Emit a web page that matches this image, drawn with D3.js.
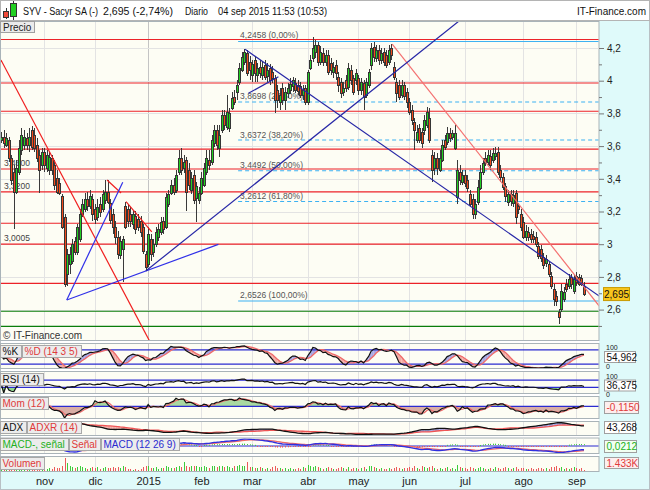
<!DOCTYPE html>
<html><head><meta charset="utf-8">
<script src="https://cdn.jsdelivr.net/npm/d3@7"></script>
<style>
body{margin:0;background:#fff;}
svg{display:block;font-family:"Liberation Sans",Arial,sans-serif;}
</style></head><body>
<svg id="c" width="650" height="490"></svg>
<script>
// ---------- DATA ----------
const opens = [3.638,3.657,3.608,3.638,3.529,3.444,3.322,3.444,3.578,3.608,
3.650,3.608,3.699,3.669,3.608,3.547,3.486,3.565,3.468,3.456,
3.529,3.486,3.407,3.377,3.292,3.164,2.818,2.878,2.897,3.018,
2.951,3.030,3.182,3.213,3.274,3.231,3.274,3.213,3.164,3.243,
3.213,3.274,3.322,3.255,3.182,3.103,3.043,2.933,2.970,3.231,
3.213,3.182,3.122,3.170,3.152,3.140,3.103,2.939,2.878,3.030,
2.951,3.000,3.043,3.073,3.140,3.103,3.243,3.316,3.365,3.334,
3.444,3.529,3.468,3.517,3.456,3.334,3.426,3.286,3.274,3.316,
3.365,3.444,3.517,3.505,3.620,3.699,3.590,3.699,3.790,3.717,
3.711,3.833,3.900,3.930,3.991,4.064,4.112,4.167,4.112,4.033,
4.125,4.033,4.082,4.033,4.094,4.027,4.076,4.052,4.015,3.942,
3.869,3.954,3.881,3.924,3.942,3.967,3.985,3.973,3.967,3.912,
3.954,3.869,4.076,4.137,4.173,4.216,4.112,4.167,4.112,4.155,
4.106,4.052,4.094,4.021,3.991,3.930,4.003,3.960,4.064,4.015,
4.003,4.015,3.942,3.985,3.912,3.973,4.094,4.204,4.137,4.185,
4.125,4.173,4.155,4.112,4.197,4.082,3.991,3.973,3.912,3.973,
3.930,3.869,3.821,3.748,3.638,3.711,3.687,3.699,3.730,3.772,
3.547,3.468,3.529,3.456,3.517,3.638,3.626,3.681,3.657,3.590,
3.292,3.444,3.383,3.426,3.395,3.304,3.274,3.182,3.255,3.347,
3.444,3.529,3.505,3.541,3.517,3.541,3.565,3.456,3.413,3.353,
3.255,3.304,3.249,3.316,3.231,3.182,3.134,3.043,3.073,3.061,
3.049,3.043,2.988,2.970,2.921,2.884,2.878,2.805,2.726,2.684,
2.586,2.605,2.666,2.757,2.745,2.799,2.714,2.805,2.799,2.793,
2.745];
const highs = [3.687,3.699,3.681,3.657,3.547,3.486,3.517,3.638,3.711,3.699,
3.681,3.711,3.723,3.711,3.650,3.578,3.590,3.590,3.578,3.565,
3.547,3.517,3.456,3.407,3.304,3.182,2.970,2.982,3.030,3.043,
3.122,3.213,3.274,3.316,3.322,3.334,3.304,3.243,3.274,3.286,
3.334,3.395,3.395,3.274,3.213,3.140,3.079,3.049,3.049,3.261,
3.243,3.225,3.201,3.201,3.182,3.170,3.122,2.957,3.103,3.061,
3.030,3.103,3.122,3.164,3.164,3.316,3.334,3.395,3.407,3.456,
3.578,3.590,3.547,3.535,3.498,3.444,3.456,3.383,3.347,3.444,
3.498,3.578,3.578,3.669,3.730,3.730,3.730,3.821,3.821,3.912,
3.833,3.930,3.942,4.003,4.106,4.173,4.191,4.185,4.149,4.125,
4.143,4.106,4.125,4.112,4.125,4.106,4.100,4.088,4.033,3.973,
3.954,3.985,3.960,3.985,4.015,4.021,4.015,4.003,3.991,3.973,
3.973,4.064,4.155,4.270,4.246,4.234,4.210,4.197,4.185,4.185,
4.137,4.112,4.125,4.052,4.015,3.991,4.033,4.106,4.094,4.033,
4.070,4.033,4.015,4.003,4.015,4.070,4.228,4.234,4.216,4.216,
4.197,4.197,4.185,4.216,4.222,4.112,4.015,4.003,4.003,3.991,
3.954,3.894,3.851,3.772,3.730,3.736,3.711,3.790,3.839,3.833,
3.578,3.565,3.559,3.578,3.638,3.669,3.717,3.711,3.699,3.730,
3.517,3.486,3.456,3.456,3.426,3.334,3.304,3.274,3.395,3.486,
3.529,3.565,3.578,3.578,3.590,3.596,3.596,3.486,3.438,3.377,
3.334,3.334,3.334,3.334,3.255,3.213,3.164,3.116,3.103,3.091,
3.079,3.073,3.012,2.994,2.945,2.933,2.897,2.830,2.757,2.714,
2.605,2.757,2.739,2.787,2.818,2.818,2.812,2.830,2.818,2.812,
2.769];
const lows = [3.620,3.590,3.596,3.505,3.365,3.091,3.304,3.426,3.547,3.578,
3.578,3.565,3.578,3.565,3.505,3.316,3.456,3.444,3.444,3.426,
3.426,3.334,3.304,3.298,3.091,2.739,2.745,2.818,2.878,2.933,
2.933,3.012,3.164,3.195,3.201,3.213,3.140,3.122,3.140,3.164,
3.195,3.243,3.243,3.122,3.061,3.000,2.909,2.909,2.769,3.091,
3.103,3.103,3.091,3.061,3.079,3.043,2.939,2.836,2.860,2.897,
2.921,2.982,3.018,3.055,3.061,3.091,3.225,3.298,3.298,3.316,
3.426,3.426,3.438,3.201,3.334,3.304,3.243,3.134,3.243,3.298,
3.347,3.426,3.456,3.486,3.596,3.578,3.535,3.681,3.699,3.699,
3.687,3.821,3.851,3.881,3.973,4.052,4.094,4.027,4.003,3.991,
3.991,3.991,4.015,4.003,4.003,3.991,3.973,3.985,3.802,3.833,
3.821,3.851,3.821,3.894,3.918,3.930,3.924,3.912,3.894,3.881,
3.851,3.851,4.064,4.112,4.137,4.088,4.094,4.088,4.088,4.033,
4.033,4.015,4.003,3.930,3.894,3.906,3.930,3.942,3.973,3.912,
3.973,3.912,3.912,3.821,3.894,3.954,4.064,4.112,4.112,4.094,
4.100,4.088,4.076,4.094,4.125,4.003,3.869,3.881,3.894,3.881,
3.833,3.790,3.730,3.578,3.620,3.620,3.590,3.669,3.711,3.620,
3.383,3.426,3.426,3.444,3.505,3.578,3.608,3.626,3.638,3.578,
3.243,3.365,3.365,3.347,3.322,3.225,3.152,3.152,3.237,3.334,
3.426,3.480,3.486,3.456,3.498,3.517,3.426,3.383,3.334,3.261,
3.231,3.231,3.225,3.122,3.182,3.079,3.030,3.018,3.018,3.006,
3.006,2.982,2.909,2.891,2.848,2.860,2.799,2.726,2.623,2.623,
2.514,2.586,2.647,2.708,2.726,2.726,2.696,2.745,2.745,2.745,
2.684];
const closes = [3.657,3.620,3.650,3.529,3.395,3.322,3.468,3.590,3.669,3.657,
3.608,3.657,3.596,3.590,3.529,3.456,3.565,3.486,3.547,3.535,
3.456,3.365,3.322,3.316,3.103,2.757,2.939,2.939,3.000,2.951,
3.103,3.182,3.243,3.274,3.231,3.292,3.182,3.152,3.225,3.195,
3.304,3.322,3.261,3.152,3.103,3.043,2.939,3.018,3.030,3.103,
3.140,3.140,3.182,3.091,3.103,3.073,2.957,2.860,3.061,2.939,
3.000,3.073,3.091,3.134,3.091,3.286,3.304,3.365,3.322,3.426,
3.529,3.456,3.505,3.322,3.365,3.407,3.274,3.359,3.316,3.407,
3.468,3.529,3.486,3.638,3.699,3.608,3.669,3.790,3.730,3.809,
3.802,3.894,3.869,3.973,4.076,4.143,4.173,4.046,4.064,4.100,
4.046,4.076,4.046,4.082,4.021,4.064,4.003,4.015,3.881,3.881,
3.912,3.881,3.930,3.954,3.979,4.003,3.942,3.936,3.912,3.942,
3.869,4.052,4.125,4.197,4.216,4.112,4.173,4.112,4.155,4.052,
4.064,4.082,4.046,3.973,3.924,3.954,3.954,4.076,4.003,3.930,
4.046,3.942,3.991,3.900,3.991,4.052,4.197,4.143,4.185,4.125,
4.167,4.112,4.094,4.185,4.155,4.021,3.924,3.900,3.973,3.906,
3.869,3.809,3.760,3.699,3.687,3.638,3.620,3.760,3.809,3.638,
3.456,3.529,3.468,3.529,3.608,3.596,3.681,3.650,3.681,3.681,
3.456,3.395,3.426,3.377,3.347,3.243,3.182,3.243,3.347,3.444,
3.498,3.505,3.547,3.486,3.559,3.559,3.444,3.413,3.353,3.292,
3.304,3.261,3.298,3.170,3.213,3.103,3.043,3.079,3.043,3.030,
3.030,3.000,2.927,2.915,2.872,2.909,2.818,2.745,2.666,2.653,
2.556,2.714,2.708,2.726,2.787,2.757,2.787,2.769,2.757,2.771,
2.695];
const volumes = [4,5,3,4,6,9,5,4,5,3,4,5,3,4,4,6,4,
4,3,4,3,5,4,4,7,16,10,6,5,4,5,6,5,4,3,4,5,
4,5,3,4,5,4,4,5,4,5,4,6,5,3,3,2,3,2,3,5,6,
6,4,4,5,3,4,4,6,5,4,4,5,6,5,11,7,5,6,7,6,5,
5,6,5,4,7,6,5,6,7,5,6,5,4,6,7,8,6,6,11,5,
5,4,4,5,4,3,4,3,5,6,4,4,3,4,3,4,3,3,4,3,5,4,
8,6,5,7,5,4,3,4,5,4,3,3,4,5,4,3,5,3,4,4,
3,4,5,3,6,7,5,4,3,4,3,3,4,3,4,5,4,3,4,4,
5,4,6,4,3,7,5,4,5,6,4,3,4,3,4,5,3,4,3,8,5,4,
4,3,5,4,3,4,5,4,3,3,4,3,5,4,3,4,5,4,3,4,5,3,4,
4,3,3,4,3,3,4,4,3,4,3,5,5,6,4,5,3,4,3,4,5,
4,3,4,1.433];
const monthStarts = [17,37,58,79,99,121,141,161,183,206,227];
const monthLabels = ["nov","dic","2015","feb","mar","abr","may","jun","jul","ago","sep"];
const priceTicks = [2.6,2.8,3,3.2,3.4,3.6,3.8,4,4.2];
const minorTicks = [2.5,2.7,2.9,3.1,3.3,3.5,3.7,3.9,4.1];
const fibLevels = [4.2458,3.8698,3.6372,3.4492,3.2612,2.6526];
const fibPct = ["0,00%","23,60%","38,20%","50,00%","61,80%","100,00%"];
const fibStart = 93.5;
const redLevels = [4.252,3.986,3.813,3.582,3.46,3.32,3.128,3.0005,2.761];
const greenLevels = [2.590,2.498];
const levelLabels = [[3.46,"3,4600"],[3.32,"3,3200"],[3.0005,"3,0005"]];
const redTrends = [[[-0.1,4.127],[58.75,2.402]],[[41.77,3.393],[47.3,3.313]],[[49.27,3.26],[59.42,3.076]]];
const salmonTrends = [[[154.3,4.224],[236,2.622]]];
const brightBlueTrends = [[[25.86,2.659],[47.97,3.379]],[[25.86,2.659],[85.71,2.999]]];
const navyTrends = [[[57.05,2.836],[200,4.604]],[[96.25,4.192],[236,2.683]],[[97.55,3.923],[109.4,4.024]]];
const headerTexts = [["SYV - Sacyr SA (-)",23,75],["2,695 (-2,74%)",103,70],["Diario",185,23],["04 sep 2015 11:53 (10:53)",218,109]];
const lastValues = {price:"2,695", stoch:"54,962", rsi:"36,375", mom:"-0,1150", adx:"43,268", macd:"0,0212", vol:"1.433K"};

// ---------- SETUP ----------
const W=650,H=490,PR=599;
const n = closes.length;
const svg = d3.select("#c");
const x = d3.scaleLinear().domain([0,230]).range([1.2,584]);
const y = d3.scaleLinear().domain([2.6,4.2]).range([309.6,48.0]);
const loc = d3.formatLocale({decimal:",",thousands:".",grouping:[3],currency:["","€"]});
const fAxis = loc.format("~g");
const fib4 = loc.format(".4f");

svg.append("rect").attr("width",W).attr("height",H).attr("fill","#fff");
svg.append("rect").attr("x",PR).attr("y",21).attr("width",W-PR).attr("height",H-21).attr("fill","#dffafa");
svg.append("rect").attr("x",0).attr("y",472).attr("width",W).attr("height",18).attr("fill","#dffafa");
svg.append("rect").attr("x",0.5).attr("y",0.5).attr("width",W-1).attr("height",H-1).attr("fill","none").attr("stroke","#b8c0c4");

// header
svg.append("rect").attr("x",0.5).attr("y",0.5).attr("width",W-1).attr("height",20).attr("fill","#fff").attr("stroke","#b4b4b4");
const ic = svg.append("g").attr("shape-rendering","crispEdges");
ic.append("line").attr("x1",6.5).attr("x2",6.5).attr("y1",8).attr("y2",19).attr("stroke","#333");
ic.append("rect").attr("x",3.5).attr("y",11.5).attr("width",5).attr("height",6).attr("fill","#f04a3a").attr("stroke","#333");
ic.append("line").attr("x1",13.5).attr("x2",13.5).attr("y1",1).attr("y2",20).attr("stroke","#333");
ic.append("rect").attr("x",10.5).attr("y",3.5).attr("width",6).attr("height",13).attr("fill","#22d022").attr("stroke","#333");
const ht = svg.append("g").attr("font-size","10px").attr("fill","#111");
headerTexts.forEach(([t,xx,w])=>ht.append("text").attr("x",xx).attr("y",15).attr("textLength",w).attr("lengthAdjust","spacingAndGlyphs").text(t));
ht.append("text").attr("x",646).attr("y",15).attr("text-anchor","end").text("IT-Finance.com");

// panels
const panels = {main:[21,341],stoch:[343,369],rsi:[371,394],mom:[396,419],adx:[421,436],macd:[437.5,454],vol:[456,472]};
const defs = svg.append("defs");
Object.entries(panels).forEach(([k,[t,b]])=>{
  svg.append("rect").attr("x",0.5).attr("y",t+0.5).attr("width",PR-0.5).attr("height",b-t-1)
    .attr("fill","#fdfdf4").attr("stroke","#a9b3b8");
  defs.append("clipPath").attr("id","clip-"+k).append("rect").attr("x",1).attr("y",t+1).attr("width",PR-1.5).attr("height",b-t-2);
  const g = svg.append("g").attr("clip-path",`url(#clip-${k})`).attr("shape-rendering","crispEdges");
  monthStarts.forEach((m,j)=>{
    const xx = Math.round(x(m))+0.5;
    g.append("line").attr("x1",xx).attr("x2",xx).attr("y1",t).attr("y2",b).attr("stroke", j===2?"#c4c4c4":"#e3e3e3");
  });
});
const layer = k => svg.append("g").attr("clip-path",`url(#clip-${k})`);

// ---------- MAIN PRICE PANEL ----------
const gm = layer("main");
priceTicks.forEach(p=>{
  const yy = Math.round(y(p))+0.5;
  gm.append("line").attr("x1",0).attr("x2",PR).attr("y1",yy).attr("y2",yy).attr("stroke","#e3e3e3").attr("shape-rendering","crispEdges");
});
levelLabels.forEach(([p,t])=>{
  gm.append("text").attr("x",4).attr("y",y(p)-3).attr("font-size","8.5px").attr("fill","#444").text(t);
});
fibLevels.forEach((p,k)=>{
  const solid = (k===0 || k===fibLevels.length-1);
  gm.append("line").attr("x1",x(fibStart)).attr("x2",PR).attr("y1",y(p)+ (k===0?1:0)).attr("y2",y(p)+(k===0?1:0))
    .attr("stroke", "#3db2f2").attr("stroke-width",1.2).attr("stroke-dasharray", solid?null:"4,3");
  gm.append("text").attr("x",x(fibStart)+2).attr("y",y(p)-2.5).attr("font-size","8.5px").attr("fill","#555")
    .text(`${fib4(p)} (${fibPct[k]})`);
});
redLevels.forEach(p=>{
  gm.append("line").attr("x1",0).attr("x2",PR).attr("y1",y(p)).attr("y2",y(p)).attr("stroke","#ec2228").attr("stroke-width",1.2);
});
greenLevels.forEach(p=>{
  gm.append("line").attr("x1",0).attr("x2",PR).attr("y1",y(p)).attr("y2",y(p)).attr("stroke","#0a7d0a").attr("stroke-width",1.2);
});
const cg = gm.append("g").attr("shape-rendering","crispEdges");
for (let i=0;i<n;i++){
  const cx = Math.round(x(i));
  cg.append("line").attr("x1",cx+0.5).attr("x2",cx+0.5).attr("y1",y(highs[i])).attr("y2",y(lows[i])).attr("stroke","#3a3a3a");
}
for (let i=0;i<n;i++){
  const cx = Math.round(x(i));
  const up = closes[i]>=opens[i];
  const top = Math.round(y(Math.max(opens[i],closes[i])));
  const h = Math.max(1, Math.round(Math.abs(y(opens[i])-y(closes[i]))));
  cg.append("rect").attr("x",cx-0.5).attr("y",top+0.5).attr("width",2).attr("height",h)
    .attr("fill", up?"#22cf22":"#f24a1c").attr("stroke","#353535").attr("stroke-width",1);
}
const tl = d3.line().x(d=>x(d[0])).y(d=>y(d[1]));
redTrends.forEach(s=>gm.append("path").attr("d",tl(s)).attr("stroke","#f01e1e").attr("stroke-width",1.2).attr("fill","none"));
salmonTrends.forEach(s=>gm.append("path").attr("d",tl(s)).attr("stroke","#f47070").attr("stroke-width",1.2).attr("fill","none"));
brightBlueTrends.forEach(s=>gm.append("path").attr("d",tl(s)).attr("stroke","#3030e8").attr("stroke-width",1.2).attr("fill","none"));
navyTrends.forEach(s=>gm.append("path").attr("d",tl(s)).attr("stroke","#2626a6").attr("stroke-width",1.2).attr("fill","none"));

svg.append("text").attr("x",3).attr("y",339).attr("font-size","10px").attr("fill","#333").text("© IT-Finance.com");
svg.append("rect").attr("x",0.5).attr("y",21.5).attr("width",34).attr("height",11).attr("fill","#ebebeb").attr("stroke","#a0a0a0");
svg.append("text").attr("x",3).attr("y",30.5).attr("font-size","10px").attr("fill","#222").text("Precio");

const ra = svg.append("g").attr("transform",`translate(${PR},0)`)
  .call(d3.axisRight(y).tickValues(priceTicks).tickSize(5).tickPadding(3).tickFormat(fAxis));
const ra2 = svg.append("g").attr("transform",`translate(${PR},0)`)
  .call(d3.axisRight(y).tickValues(minorTicks).tickSize(3).tickFormat(""));
[ra,ra2].forEach(a=>{a.select(".domain").remove(); a.selectAll("line").attr("stroke","#777"); a.selectAll("text").attr("font-size","10px").attr("fill","#222").attr("font-family","Liberation Sans, Arial, sans-serif");});
svg.append("rect").attr("x",603.5).attr("y",y(closes[n-1])-6.5).attr("width",26).attr("height",13).attr("fill","#f8c61c").attr("stroke","#c89a00");
svg.append("text").attr("x",616.5).attr("y",y(closes[n-1])+3.5).attr("text-anchor","middle").attr("font-size","10px").attr("fill","#111").text(lastValues.price);

// ---------- INDICATORS ----------
const sma=(arr,p)=>arr.map((v,i)=>d3.mean(arr.slice(Math.max(0,i-p+1),i+1)));
const ema=(arr,p)=>{const k=2/(p+1);const out=[];arr.forEach((v,i)=>out.push(i===0?v:out[i-1]+k*(v-out[i-1])));return out;};
const wilder=(arr,p)=>{const out=[];arr.forEach((v,i)=>out.push(i===0?v:(i<p? (out[i-1]*i+v)/(i+1) : out[i-1]+(v-out[i-1])/p)));return out;};

const rawK = closes.map((c,i)=>{const s=Math.max(0,i-13);const hh=d3.max(highs.slice(s,i+1));const ll=d3.min(lows.slice(s,i+1));return hh>ll?100*(c-ll)/(hh-ll):50;});
const stK = sma(rawK,3), stD = sma(stK,5);
const gains=[0],losses=[0];
for(let i=1;i<n;i++){const d=closes[i]-closes[i-1];gains.push(Math.max(d,0));losses.push(Math.max(-d,0));}
const ag=wilder(gains.slice(1),14), al=wilder(losses.slice(1),14);
const rsi=[50].concat(ag.map((g,i)=>al[i]===0?100:100-100/(1+g/al[i])));
const mom = closes.map((c,i)=> i>=12 ? c-closes[i-12] : null);
const momS = mom.map((v,i)=> i>=14 ? d3.mean(mom.slice(i-2,i+1)) : null);
const tr=[highs[0]-lows[0]],pdm=[0],mdm=[0];
for(let i=1;i<n;i++){
  tr.push(Math.max(highs[i]-lows[i],Math.abs(highs[i]-closes[i-1]),Math.abs(lows[i]-closes[i-1])));
  const up=highs[i]-highs[i-1], dn=lows[i-1]-lows[i];
  pdm.push(up>dn&&up>0?up:0); mdm.push(dn>up&&dn>0?dn:0);
}
const str=wilder(tr,14), spd=wilder(pdm,14), smd=wilder(mdm,14);
const dx=str.map((t,i)=>{const p=100*spd[i]/t,m=100*smd[i]/t;return (p+m)>0?100*Math.abs(p-m)/(p+m):0;});
const adx=wilder(dx,14);
const adxr=adx.map((v,i)=>(v+adx[Math.max(0,i-14)])/2);
const e12=ema(closes,12), e26=ema(closes,26);
const macd=e12.map((v,i)=>v-e26[i]);
const sig=ema(macd,9);
const hist=macd.map((v,i)=>v-sig[i]);

const ys = d3.scaleLinear().domain([0,100]).range([369,345]);
const yr = d3.scaleLinear().domain([0,100]).range([393,374.5]);
const mvals = mom.filter(v=>v!==null);
const ym = d3.scaleLinear().domain([d3.min(mvals),d3.max(mvals)]).range([418,398]);
const ya = d3.scaleLinear().domain([d3.min(adx.slice(14)),d3.max(adx.slice(14))]).range([434.5,422.5]);
const mm = d3.max(macd.map(Math.abs));
const yc = d3.scaleLinear().domain([-mm,mm]).range([453,439]);
const yv = d3.scaleLinear().domain([0,d3.max(volumes)]).range([471.5,458]);

function fillBetween(g,a,b,ysc,cUp,cDn,start){
  for(let i=start;i<n-1;i++){
    const d0=a[i]-b[i], d1=a[i+1]-b[i+1];
    const poly=(pts,c)=>g.append("path").attr("d","M"+pts.map(p=>p.join(",")).join("L")+"Z").attr("fill",c);
    if(d0*d1<0){
      const t=d0/(d0-d1), xm=x(i+t), yv2=ysc(a[i]+t*(a[i+1]-a[i]));
      poly([[x(i),ysc(a[i])],[xm,yv2],[x(i),ysc(b[i])]], d0>0?cUp:cDn);
      poly([[xm,yv2],[x(i+1),ysc(a[i+1])],[x(i+1),ysc(b[i+1])]], d1>0?cUp:cDn);
    } else {
      poly([[x(i),ysc(a[i])],[x(i+1),ysc(a[i+1])],[x(i+1),ysc(b[i+1])],[x(i),ysc(b[i])]], (d0+d1)>=0?cUp:cDn);
    }
  }
}
const hline=(g,yy,c)=>g.append("line").attr("x1",0).attr("x2",PR).attr("y1",yy).attr("y2",yy).attr("stroke",c).attr("stroke-width",1.2);
const pline=(g,arr,ysc,c,w)=>g.append("path").attr("d",d3.line().defined(d=>d!==null).x((d,i)=>x(i)).y(d=>ysc(d))(arr)).attr("fill","none").attr("stroke",c).attr("stroke-width",w||1.2);

const gs=layer("stoch");
fillBetween(gs,stK,stD,ys,"#a6a6e4","#f2aaa4",0);
hline(gs,ys(80),"#2b2bd0"); hline(gs,ys(20),"#2b2bd0");
pline(gs,stD,ys,"#ef6a6a",1.3); pline(gs,stK,ys,"#111",1.2);
const gr=layer("rsi");
gr.append("path").attr("d",d3.area().x((d,i)=>x(i)).y0(yr(30)).y1(d=>yr(Math.min(d,30)))(rsi)).attr("fill","#8fd88f");
gr.append("path").attr("d",d3.area().x((d,i)=>x(i)).y0(yr(70)).y1(d=>yr(Math.max(d,70)))(rsi)).attr("fill","#f2aaa4");
hline(gr,yr(70),"#2b2bd0"); hline(gr,yr(30),"#2b2bd0");
pline(gr,rsi,yr,"#111",1.2);
const gmo=layer("mom");
const momArea=d3.area().defined(d=>d!==null).x((d,i)=>x(i)).y0(ym(0));
gmo.append("path").attr("d",momArea.y1(d=>ym(Math.max(d,0)))(mom)).attr("fill","#a9d9a0");
gmo.append("path").attr("d",momArea.y1(d=>ym(Math.min(d,0)))(mom)).attr("fill","#d9aea6");
hline(gmo,ym(0),"#2b2bd0");
pline(gmo,momS,ym,"#ef6a6a",1.2); pline(gmo,mom,ym,"#111",1.2);
const gad=layer("adx");
fillBetween(gad,adx,adxr,ya,"#a6a6e4","#f2aaa4",1);
pline(gad,adxr.map((v,i)=>i>0?v:null),ya,"#ef5555",1.3); pline(gad,adx.map((v,i)=>i>0?v:null),ya,"#111",1.3);
const gmc=layer("macd");
hline(gmc,yc(0),"#2b2bd0");
hist.forEach((h,i)=>{
  const y0=yc(0), y1=yc(h);
  gmc.append("rect").attr("x",Math.round(x(i))).attr("width",1)
    .attr("y",Math.min(y0,y1)-(h>=0?1:0)).attr("height",Math.max(1,Math.abs(y1-y0)))
    .attr("fill",h>=0?"#3ccc3c":"#ec5a5a");
});
pline(gmc,sig,yc,"#ef6a6a",1.3); pline(gmc,macd,yc,"#3030e0",1.4);
const gvo=layer("vol").attr("shape-rendering","crispEdges");
volumes.forEach((v,i)=>{
  gvo.append("rect").attr("x",Math.round(x(i))).attr("width",1).attr("y",yv(v)).attr("height",yv(0)-yv(v))
    .attr("fill", closes[i]>=opens[i]?"#3ccc3c":"#ec5a5a");
});

// panel label boxes, sized to their text
function labelRow(yy,items){
  let xx=0;
  items.forEach(([txt,col])=>{
    const r=svg.append("rect").attr("x",xx+0.5).attr("y",yy+0.5).attr("height",12).attr("fill","#ececec").attr("stroke","#a8a8a8");
    const t=svg.append("text").attr("x",xx+2.5).attr("y",yy+10).attr("font-size","10px").attr("fill",col).text(txt);
    const w=Math.ceil(t.node().getComputedTextLength())+5;
    r.attr("width",w); xx+=w+1;
  });
}
labelRow(345,[["%K","#111"],["%D (14 3 5)","#e03a3a"]]);
labelRow(373,[["RSI (14)","#111"]]);
labelRow(397,[["Mom (12)","#e03a3a"]]);
labelRow(421,[["ADX","#111"],["ADXR (14)","#e03a3a"]]);
labelRow(438,[["MACD-, señal","#22b022"],["Señal","#e03a3a"],["MACD (12 26 9)","#2a2ad0"]]);
labelRow(457,[["Volumen","#e03a3a"]]);

// right side value labels (small scale texts above / below boxes)
const rl=svg.append("g").attr("font-size","7px").attr("fill","#222");
rl.append("text").attr("x",606).attr("y",350).text("100");
rl.append("text").attr("x",606).attr("y",369).text("0");
rl.append("text").attr("x",606).attr("y",378.5).text("100");
rl.append("text").attr("x",606).attr("y",396.5).text("0");
function valBox(yy,w,hh,txt,col,bg){
  svg.append("rect").attr("x",604.5).attr("y",yy+0.5).attr("width",w).attr("height",hh).attr("fill",bg).attr("stroke","#a0a0a0");
  svg.append("text").attr("x",606.5).attr("y",yy+hh/2+4).attr("font-size","10px").attr("fill",col).text(txt);
}
valBox(351,31,11,lastValues.stoch,"#111","#fff");
valBox(379.5,31,11,lastValues.rsi,"#111","#fff");
valBox(401,34,12,lastValues.mom,"#e03a3a","#fdeeee");
valBox(421,31,12,lastValues.adx,"#111","#fff");
valBox(440,32,12,lastValues.macd,"#22b022","#f2fff2");
valBox(457,34,11,lastValues.vol,"#e03a3a","#fdeeee");

const xa = svg.append("g").attr("transform","translate(0,473)")
  .call(d3.axisBottom(x).tickValues(monthStarts).tickSize(0).tickPadding(4).tickFormat((d,i)=>monthLabels[i]));
xa.select(".domain").remove();
xa.selectAll("text").attr("font-size","11px").attr("fill","#222").attr("font-family","Liberation Sans, Arial, sans-serif");
</script>
</body></html>
